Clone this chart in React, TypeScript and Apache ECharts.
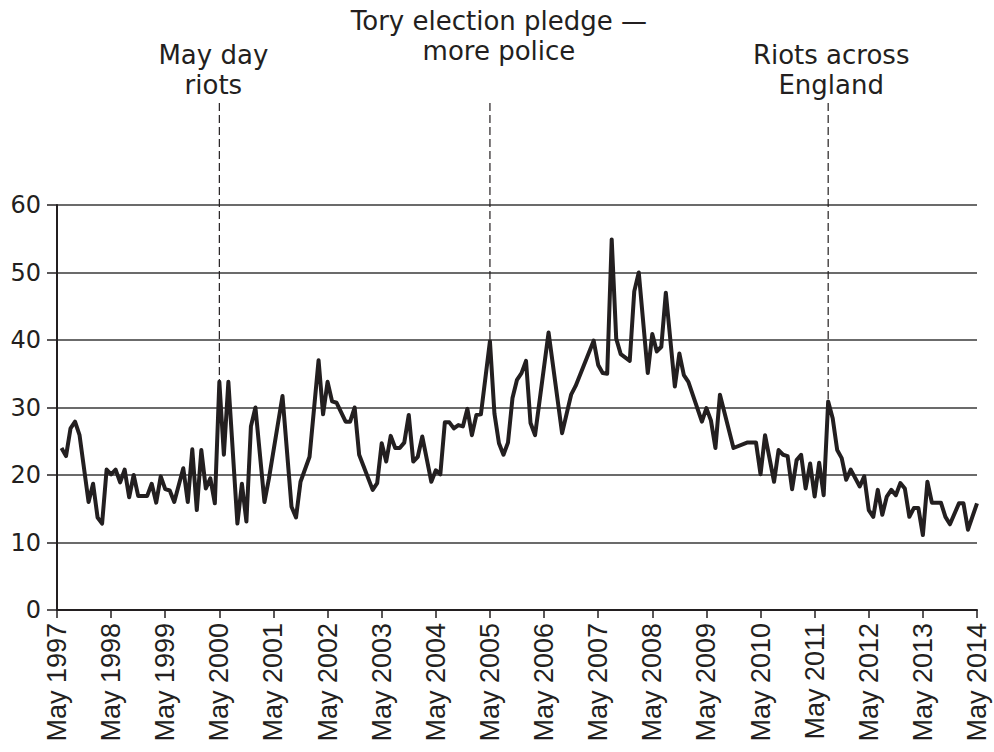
import React, { useEffect, useRef } from "react";
import * as echarts from "echarts";

// months since May 1997
const months = [
  1, 2, 3, 4, 5, 7, 8, 9, 10, 11, 12, 13, 14, 15, 16, 17, 18, 20, 21, 22, 23, 24, 25, 26, 28, 29, 30,
  31, 32, 33, 34, 35, 36, 37, 38, 40, 41, 42, 43, 44, 46, 47, 50, 52, 53, 54, 56, 58, 59, 60, 61, 62,
  64, 65, 66, 67, 70, 71, 72, 73, 74, 75, 76, 77, 78, 79, 80, 81, 83, 84, 85, 86, 87, 88, 89, 90, 91,
  92, 93, 94, 96, 97, 98, 99, 100, 101, 102, 103, 104, 105, 106, 109, 112, 114, 115, 119, 120, 121,
  122, 123, 124, 125, 127, 128, 129, 131, 132, 133, 134, 135, 137, 138, 139, 140, 143, 144, 145, 146,
  147, 150, 153, 155, 156, 157, 159, 160, 161, 162, 163, 164, 165, 166, 167, 168, 169, 170, 171, 172,
  173, 174, 175, 176, 178, 179, 180, 181, 182, 183, 184, 185, 186, 187, 188, 189, 190, 191, 192, 193,
  194, 196, 197, 198, 200, 201, 202, 204,
];

const values = [
  24.0, 22.8, 26.9, 27.9, 25.9, 16.0, 18.7, 13.7, 12.8, 20.8, 20.1, 20.8, 18.9, 20.8, 16.7, 20.0, 16.9,
  16.9, 18.7, 15.9, 19.8, 17.9, 17.7, 16.0, 21.0, 16.0, 23.8, 14.8, 23.7, 18.0, 19.5, 15.8, 33.8, 23.0,
  33.8, 12.8, 18.7, 13.1, 27.2, 30.0, 16.0, 19.5, 31.7, 15.3, 13.7, 19.0, 22.7, 37.0, 29.0, 33.8, 30.9,
  30.7, 27.9, 27.9, 30.0, 23.0, 17.8, 18.8, 24.7, 22.0, 25.8, 24.0, 24.0, 24.8, 28.9, 22.0, 22.7, 25.7,
  19.0, 20.7, 20.1, 27.8, 27.8, 26.9, 27.4, 27.2, 29.8, 25.9, 28.9, 29.0, 39.8, 29.1, 24.7, 23.0, 24.8,
  31.4, 34.1, 35.1, 36.9, 27.7, 25.9, 41.1, 26.2, 31.9, 33.2, 39.9, 36.3, 35.1, 35.0, 54.9, 40.2, 37.9,
  36.9, 47.2, 50.0, 35.1, 40.9, 38.3, 39.0, 47.0, 33.1, 38.0, 34.8, 33.8, 27.9, 29.9, 28.1, 24.0, 31.9,
  24.0, 24.8, 24.8, 20.1, 25.9, 19.0, 23.7, 23.0, 22.8, 17.9, 22.2, 23.0, 18.0, 21.7, 16.8, 21.8, 17.0,
  30.9, 28.4, 23.7, 22.5, 19.3, 20.8, 18.3, 19.8, 14.8, 13.8, 17.8, 14.1, 16.8, 17.8, 17.0, 18.8, 18.0,
  13.8, 15.1, 15.1, 11.1, 19.0, 15.9, 15.9, 13.8, 12.7, 15.8, 15.8, 11.9, 15.8,
];

const startYear = 1997;
const tickMonthLabel = "May";

const eventMonths = [36, 96, 171];
const eventLabels = ["May day\nriots", "Tory election pledge —\nmore police", "Riots across\nEngland"];

const INK = "#231f20";

export default function App() {
  const ref = useRef<HTMLDivElement>(null);

  useEffect(() => {
    document.body.style.margin = "0";
    const chart = echarts.init(ref.current!, undefined, { renderer: "svg" });
    const data = months.map((m, i) => [m, values[i]]);
    chart.setOption({
      animation: false,
      grid: { left: 57, right: 17, top: 205, bottom: 142, containLabel: false },
      xAxis: {
        type: "value",
        min: 0,
        max: 204,
        interval: 12,
        axisLine: { show: true, onZero: false, lineStyle: { color: INK, width: 2 } },
        axisTick: { show: true, length: 8, lineStyle: { color: INK, width: 1.5 } },
        splitLine: { show: false },
        axisLabel: {
          rotate: 90,
          margin: 13,
          color: INK,
          fontFamily: "Liberation Sans",
          fontSize: 27,
          formatter: (v: number) => `${tickMonthLabel} ${startYear + v / 12}`,
        },
      },
      yAxis: {
        type: "value",
        min: 0,
        max: 60,
        interval: 10,
        axisLine: { show: true, lineStyle: { color: INK, width: 2 } },
        axisTick: { show: true, length: 10, lineStyle: { color: INK, width: 1.5 } },
        splitLine: { show: true, lineStyle: { color: "#3a3a3a", width: 1.5 } },
        axisLabel: { margin: 16, color: INK, fontFamily: "DejaVu Sans", fontSize: 24 },
      },
      series: [
        {
          type: "line",
          data,
          showSymbol: false,
          symbol: "none",
          lineStyle: { color: INK, width: 4, join: "round" },
          z: 5,
        },
      ],
    });

    const offsets = [-6, 9, 3];
    const textTops = [40, 6, 40];
    const lineTop = 103;
    const graphics: any[] = [];
    eventMonths.forEach((m, i) => {
      const v = values[months.indexOf(m)];
      const p = chart.convertToPixel({ gridIndex: 0 }, [m, v]) as number[];
      graphics.push({
        type: "line",
        shape: { x1: p[0], y1: lineTop, x2: p[0], y2: p[1] },
        style: { stroke: INK, lineWidth: 1.2, lineDash: [8, 4] },
        z: 1,
      });
      graphics.push({
        type: "text",
        x: p[0] + offsets[i],
        y: textTops[i],
        style: {
          text: eventLabels[i],
          fill: INK,
          fontFamily: "DejaVu Sans",
          fontSize: 26,
          lineHeight: 30,
          align: "center",
          verticalAlign: "top",
        },
      });
    });
    chart.setOption({ graphic: graphics });

    return () => chart.dispose();
  }, []);

  return <div ref={ref} style={{ width: 994, height: 752 }} />;
}
